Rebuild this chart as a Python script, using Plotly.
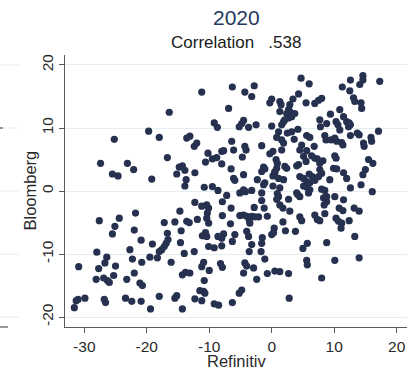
import plotly.graph_objects as go

# Values (Refinitiv on x, Bloomberg on y)
refinitiv = [
    # upper-left block
    -11.2, -16.4, -19.7, -25.2, -18.0, -9.2, -8.7, -27.4, -23.1, -25.5,
    -24.6, -22.1, -19.2, -16.7, -13.6, -13.1, -12.4, -12.0, -10.2, -10.6,
    -9.5, -8.8, -14.8, -14.3, -13.9, -15.2, -13.7, -13.9, -12.3, -10.8,
    -9.5, -8.6,
    # lower-left block
    -12.3, -11.2, -10.4, -10.1, -14.7, -10.3, -10.4, -10.1, -11.9, -13.6,
    -13.2, -15.5, -17.2, -27.6, -24.4, -25.1, -25.5, -21.8, -22.0, -20.9,
    -19.1, -16.7, -16.6, -16.9, -17.2, -17.6, -18.0, -14.5, -14.6, -10.6,
    -11.1, -10.4, -10.1, -9.2, -14.0, -12.4, -28.0, -26.4, -26.7, -27.7,
    -30.9, -25.0, -25.3, -28.1, -26.9, -26.0, -26.3, -22.7, -22.3, -20.8,
    -19.5, -18.3, -22.0, -23.2, -21.1, -20.7, -16.1, -10.9, -11.2, -10.0,
    -14.3, -13.8, -13.1, -10.8, -11.5, -10.9, -10.7, -12.3, -11.2, -9.2,
    -8.5, -14.3, -15.2, -15.5, -18.0, -19.4, -20.9, -22.4, -23.4, -26.8,
    -26.6, -29.9, -31.0, -31.3, -31.6,
    # upper-right block
    4.7, 6.0, 14.6, 14.6, 14.1, 12.6, 17.3, 11.3, 12.5, 13.1,
    13.3, 14.3, 14.4, -6.3, -4.3, -3.2, -2.8, 4.3, 0.0, -0.3,
    1.3, 1.5, 2.9, 3.4, 2.7, 5.5, 6.9, 7.5, 8.0, -6.9,
    1.3, 2.4, 2.9, 3.7, 3.2, 2.7, 2.1, 1.9, 1.6, 9.4,
    10.9, 11.5, 7.7, 7.8, 8.8, 10.3, 10.6, 10.9, 12.0, 12.4,
    12.6, 12.3, 13.7, 14.0, -4.5, -4.8, -5.2, -3.7, -2.5, 0.0,
    1.1, 0.8, 1.6, 1.9, 2.5, 3.2, 4.2, 3.6, 5.6, 6.1,
    6.8, 4.8, 8.5, 8.7, 9.5, 10.1, 10.4, 11.2, 11.4, 12.6,
    14.7, 14.8, 15.9, 16.0, 17.1, -6.4, -4.3, -4.1, -7.7, -8.0,
    -1.6, -6.1, -4.7, -8.0, -0.3, 0.2, 1.6, 0.7, 0.9, 0.8,
    0.5, 2.1, 2.4, 4.5, 5.6, 5.1, 5.5, 4.3, 4.0, 6.4,
    6.9, 7.3, 7.7, 8.2, 10.1, 10.3, -1.3, -1.1, -6.5, -4.5,
    -6.1, -5.9, -2.3, -1.6, 0.2, 0.5, 1.1, 1.9, 4.5, 5.1,
    6.0, 6.5, 5.6, 6.1, 6.9, 7.5, 7.7, 8.0, 9.3, 9.9,
    10.4, 11.5, 12.0, 15.5, 16.2, 15.0, 14.6, 14.3, 12.6, 16.1,
    -7.2, -5.1, -4.5, -4.2, -3.2, -1.6, -1.3, -1.1, 0.2, 1.3,
    0.9, 1.1, 0.8, 2.7, 4.2, 4.5, 4.0, 5.1, 5.6, 6.1,
    5.9, 8.0, 8.5, 8.8, 8.3, 10.1, 11.5,
    # lower-right block
    -7.9, -6.5, -1.6, 1.3, 1.8, 2.9, 8.8, 8.4, 10.8, 11.4,
    13.2, 14.0, -2.8, -1.2, -6.6, -7.9, -5.1, -4.5, -4.0, -3.6,
    -3.2, -2.7, -2.1, -3.5, -0.7, 1.8, 4.5, 4.8, 6.9, 7.3,
    7.7, 8.5, 10.3, 10.7, 11.2, 11.1, 12.4, -4.0, -3.7, -6.3,
    -7.7, -8.0, -8.6, -5.9, -8.0, -3.2, -3.6, -1.5, -1.6, -1.7,
    -1.1, 0.0, 0.3, 0.4, 2.2, 3.8, 5.0, 5.7, 8.8, 13.3,
    5.6, 5.7, 10.1, 14.0, -8.2, -7.9, -4.3, -4.0, -2.9, -4.5,
    -2.4, -0.7, 0.5, 1.3, 2.7, 8.0, -4.8, -5.2, -6.3, 2.8,
]

bloomberg = [
    # upper-left block
    15.7, 12.5, 9.5, 8.2, 8.5, 10.8, 10.1, 4.4, 4.4, 2.7,
    2.4, 3.4, 1.9, 5.3, 8.4, 8.7, 7.1, 7.6, 6.0, 4.6,
    5.1, 5.3, 3.8, 4.0, 3.3, 2.7, 1.8, 0.8, 2.9, 0.6,
    0.7, 0.1,
    # lower-left block
    -1.8, -2.4, -2.2, -2.7, -3.2, -3.5, -4.3, -5.1, -4.5, -4.8,
    -5.0, -4.9, -5.0, -4.7, -4.3, -5.6, -6.8, -3.5, -6.2, -7.8,
    -8.4, -6.7, -7.7, -8.3, -8.8, -9.3, -9.6, -6.3, -8.2, -6.6,
    -7.1, -7.2, -8.8, -9.0, -9.9, -9.6, -9.7, -10.5, -11.4, -12.3,
    -12.0, -11.9, -13.4, -14.0, -13.8, -14.5, -14.2, -9.3, -10.8, -11.3,
    -10.5, -10.6, -13.0, -14.0, -14.6, -15.0, -11.3, -11.3, -12.0, -12.6,
    -13.3, -12.9, -13.0, -14.2, -15.8, -15.9, -16.2, -17.1, -17.4, -17.9,
    -18.1, -18.7, -16.6, -17.0, -16.7, -18.7, -17.5, -17.5, -17.0, -17.2,
    -17.7, -17.0, -17.2, -17.4, -18.5,
    # upper-right block
    17.9, 17.0, 18.3, 17.6, 16.9, 17.6, 17.4, 16.5, 15.9, 14.8,
    14.2, 14.0, 13.1, 16.5, 15.7, 15.0, 16.7, 15.4, 14.6, 14.0,
    14.2, 13.7, 13.7, 14.6, 12.9, 14.0, 13.9, 14.4, 14.7, 13.1,
    12.6, 12.3, 12.6, 12.3, 11.8, 11.6, 11.3, 11.0, 10.5, 12.2,
    12.9, 11.8, 11.3, 10.2, 10.7, 11.0, 10.5, 9.7, 11.0, 10.8,
    10.5, 10.2, 9.2, 8.9, 11.2, 10.7, 10.2, 10.1, 10.5, 10.3,
    9.4, 8.5, 8.1, 7.6, 9.2, 9.4, 9.8, 8.2, 8.8, 8.5,
    7.1, 7.3, 8.8, 8.1, 8.1, 8.4, 7.9, 7.7, 7.3, 8.8,
    7.6, 7.1, 8.5, 7.9, 9.5, 7.9, 7.1, 6.5, 6.4, 6.3,
    7.2, 6.5, 5.4, 4.3, 5.9, 6.3, 6.5, 5.0, 4.4, 3.6,
    3.1, 3.9, 3.6, 6.5, 6.4, 5.5, 4.7, 4.2, 4.0, 5.6,
    5.2, 5.1, 4.4, 4.8, 5.6, 5.2, 3.8, 3.5, 3.5, 2.6,
    2.0, 1.7, 1.8, 3.1, 2.4, 2.9, 2.0, 1.8, 2.3, 2.0,
    2.7, 2.3, 1.5, 1.3, 1.7, 2.3, 3.4, 2.8, 1.8, 3.6,
    3.5, 2.9, 2.0, 5.0, 4.4, 3.4, 2.6, 1.0, 0.5, -0.1,
    -0.7, -0.3, 0.2, -0.1, 0.1, -0.3, 1.0, 1.3, 0.8, 0.5,
    -0.4, -0.9, -1.3, -1.3, -0.6, -0.9, -0.3, 0.8, 0.6, 0.2,
    -0.3, 0.3, 0.1, -0.9, -1.1, -0.9, -1.4,
    # lower-right block
    -1.7, -2.7, -1.5, -2.2, -2.7, -3.2, -1.7, -2.2, -2.7, -3.1,
    -2.7, -3.2, -2.6, -2.7, -5.2, -3.9, -3.9, -3.8, -4.0, -4.6,
    -4.0, -4.1, -4.1, -5.1, -4.0, -4.9, -4.1, -4.7, -3.8, -4.5,
    -4.7, -3.6, -4.3, -4.8, -5.1, -5.9, -4.7, -6.4, -7.2, -8.0,
    -6.8, -7.5, -7.2, -6.9, -8.7, -8.5, -9.6, -7.4, -8.3, -9.6,
    -10.8, -6.9, -6.6, -5.9, -6.3, -6.4, -9.1, -8.3, -8.2, -7.2,
    -11.0, -11.7, -11.0, -10.6, -11.5, -12.1, -11.4, -11.9, -12.2, -13.0,
    -14.0, -13.1, -12.7, -12.8, -13.1, -13.8, -15.7, -16.2, -17.7, -17.0,
]

assert len(refinitiv) == len(bloomberg), (len(refinitiv), len(bloomberg))

x_ticks = [-30, -20, -10, 0, 10, 20]
y_ticks = [-20, -10, 0, 10, 20]

title_text = "2020"
subtitle_text = "Correlation   .538"
x_title = "Refinitiv"
y_title = "Bloomberg"

FONT = "Liberation Sans, Arial, Helvetica, sans-serif"
GRID = "#e4edf0"
AXIS = "#5a5a5a"

fig = go.Figure(
    go.Scatter(
        x=refinitiv,
        y=bloomberg,
        mode="markers",
        marker=dict(size=7.2, color="#26304f", line=dict(width=0)),
        hoverinfo="skip",
    )
)

W, H = 412, 371
ml, mr, mt, mb = 65, 5, 55, 44
pw, ph = W - ml - mr, H - mt - mb

def px_to_paper_x(px):
    return (px - ml) / pw

def px_to_paper_y(py):
    return (H - mb - py) / ph

fig.update_layout(
    width=W,
    height=H,
    margin=dict(l=ml, r=mr, t=mt, b=mb, pad=0),
    paper_bgcolor="white",
    plot_bgcolor="white",
    showlegend=False,
    font=dict(family=FONT, color="#222222"),
    xaxis=dict(
        range=[-33.09, 21.66],
        tickmode="array",
        tickvals=x_ticks,
        ticktext=[str(v) for v in x_ticks],
        ticks="outside",
        ticklen=5,
        tickwidth=1,
        tickcolor=AXIS,
        showline=True,
        linecolor=AXIS,
        linewidth=1,
        showgrid=False,
        zeroline=False,
        tickfont=dict(size=15.5, color="#2a2a2a", family=FONT),
        fixedrange=True,
    ),
    yaxis=dict(
        range=[-21.57, 21.58],
        tickmode="array",
        tickvals=y_ticks,
        ticktext=[str(v) for v in y_ticks],
        ticks="outside",
        ticklen=5,
        tickwidth=1,
        tickcolor=AXIS,
        showline=True,
        linecolor=AXIS,
        linewidth=1,
        showgrid=True,
        gridcolor=GRID,
        gridwidth=1,
        zeroline=False,
        tickangle=-90,
        tickfont=dict(size=15.5, color="#2a2a2a", family=FONT),
        fixedrange=True,
    ),
    annotations=[
        dict(text=title_text, xref="paper", yref="paper",
             x=0.5, y=px_to_paper_y(17.5), xanchor="center", yanchor="middle",
             showarrow=False, font=dict(size=21, color="#1f3a5e", family=FONT)),
        dict(text=subtitle_text, xref="paper", yref="paper",
             x=0.5, y=px_to_paper_y(42.5), xanchor="center", yanchor="middle",
             showarrow=False, font=dict(size=17, color="#1a1a1a", family=FONT)),
        dict(text=x_title, xref="paper", yref="paper",
             x=0.5, y=px_to_paper_y(361.0), xanchor="center", yanchor="middle",
             showarrow=False, font=dict(size=16.5, color="#2a2a2a", family=FONT)),
        dict(text=y_title, xref="paper", yref="paper",
             x=px_to_paper_x(29.5), y=0.5, xanchor="center", yanchor="middle",
             textangle=-90, showarrow=False,
             font=dict(size=16.5, color="#2a2a2a", family=FONT)),
    ],
)

# faint fragments of a neighbouring panel visible at the far left edge
shapes = []
for v in y_ticks:
    shapes.append(dict(type="line", xref="paper", yref="y",
                       x0=px_to_paper_x(0), x1=px_to_paper_x(19), y0=v, y1=v,
                       line=dict(color=GRID, width=1), layer="below"))
shapes.append(dict(type="line", xref="paper", yref="y",
                   x0=px_to_paper_x(0), x1=px_to_paper_x(3), y0=10, y1=10,
                   line=dict(color="#777777", width=1.5)))
shapes.append(dict(type="line", xref="paper", yref="paper",
                   x0=px_to_paper_x(0), x1=px_to_paper_x(8), y0=0, y1=0,
                   line=dict(color="#777777", width=1.5)))
fig.update_layout(shapes=shapes)

fig.write_html(
    "out.html",
    config={"displayModeBar": False},
    post_script="document.body.style.margin='0px'; document.body.style.overflow='hidden';",
)
